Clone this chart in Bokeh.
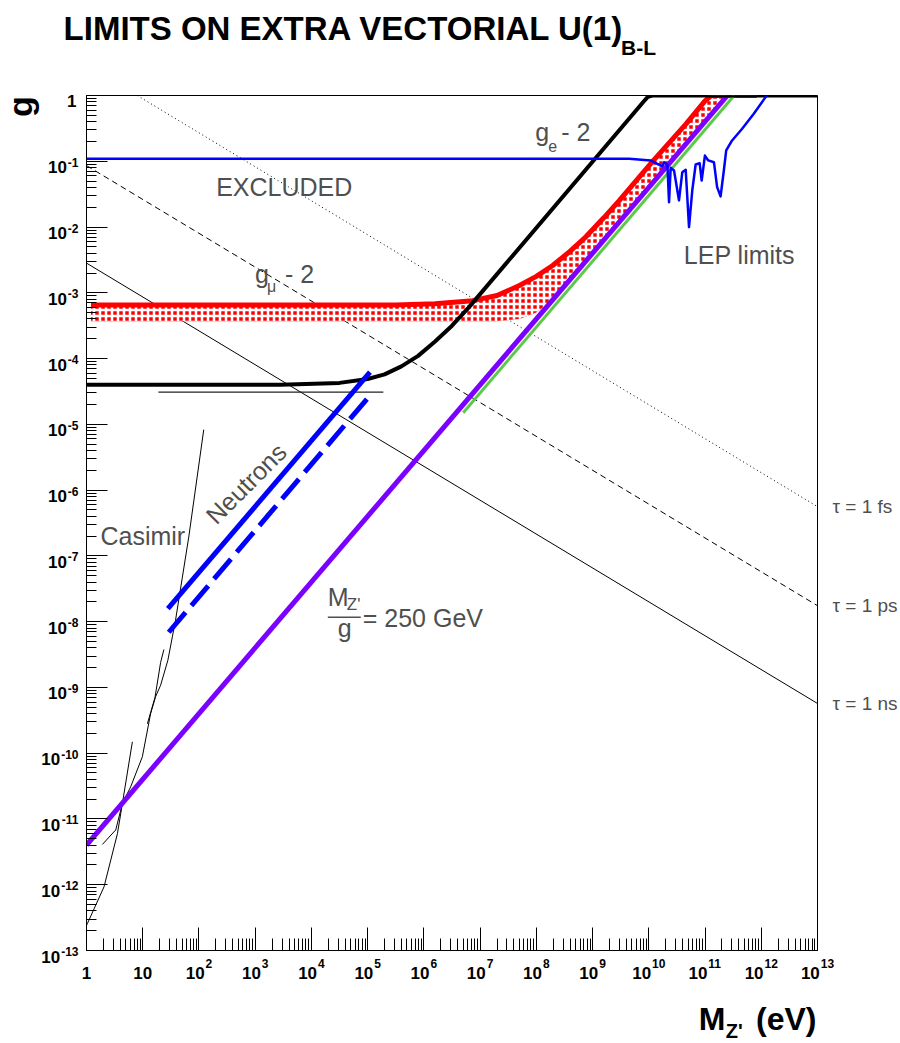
import math
from bokeh.plotting import figure
from bokeh.models import Range1d, FixedTicker, Label, BoxAnnotation, LogAxis
from bokeh.core.properties import value
from bokeh.embed import file_html
from bokeh.resources import INLINE

# ---------------- data (M in eV, g dimensionless) ----------------
black_M = [1, 2.8e3, 3.16e4, 1.0e5, 2.0e5, 3.98e5, 7.9e5, 1.58e6, 3.16e6, 6.3e6, 7.9e9, 9.6e9, 1.15e10, 1e13]
black_g = [4.0e-5, 4.0e-5, 4.27e-5, 4.9e-5, 5.75e-5, 7.6e-5, 1.10e-4, 1.82e-4, 3.16e-4, 6.0e-4, 0.79, 0.95, 1.0, 1.0]

red_M = [1.2, 3.2e5, 1.58e6, 7.4e6, 2.0e7, 5.0e7, 1.0e8, 1.95e8, 4.0e8, 7.6e8, 1.58e9, 2.95e9,
         1.15e10, 4.6e10, 1.0e11, 1.26e11, 1.4e11, 8.3e11]
red_g = [6.5e-4, 6.5e-4, 6.8e-4, 7.6e-4, 9.1e-4, 1.29e-3, 1.78e-3, 2.6e-3, 4.3e-3, 7.1e-3, 1.38e-2, 2.5e-2,
         9.8e-2, 0.37, 0.83, 0.98, 1.0, 1.0]

band_low_M = [1.2, 2.0e7, 5.0e7, 1.0e8, 1.6e8, 2.5e8, 4.0e8, 6.3e8, 2.24e11]
band_low_g = [3.7e-4, 3.7e-4, 4.0e-4, 5.0e-4, 6.8e-4, 1.0e-3, 1.7e-3, 2.8e-3, 1.0]

blue_M = [1, 4.47e9, 1.08e10, 1.42e10, 1.74e10, 1.87e10, 2.14e10, 2.29e10, 2.45e10, 2.81e10,
          3.44e10, 3.94e10, 4.53e10, 5.19e10, 5.93e10, 6.81e10, 8.02e10, 8.71e10, 9.95e10,
          1.14e11, 1.44e11, 1.64e11, 1.89e11, 2.16e11, 2.38e11, 3.03e11, 4.57e11, 7.36e11,
          1.19e12, 1.26e12]
blue_g = [0.109, 0.109, 0.103, 0.0916, 0.0834, 0.0968, 0.0893, 0.0239, 0.0796, 0.0724,
          0.0254, 0.0682, 0.0743, 0.00998, 0.036, 0.0893, 0.0935, 0.051, 0.122,
          0.103, 0.0968, 0.0405, 0.0292, 0.0724, 0.146, 0.207, 0.312, 0.527,
          0.944, 1.0]

purple_M = [1, 2.5e11]          # M/g = 250 GeV
purple_g = [4.0e-12, 1.0]

green_M = [5.0e6, 3.3e11]
green_g = [1.5e-5, 1.0]

neutron_solid_M = [28, 1.1e5]
neutron_solid_g = [1.58e-8, 6.2e-5]
neutron_dash_M = [29, 1.1e5]
neutron_dash_g = [6.9e-9, 2.75e-5]

hline_M = [19, 1.9e5]
hline_g = [3.1e-5, 3.1e-5]

tau_ns_M = [1, 1e13]
tau_ns_g = [2.83e-3, 5.7e-10]
tau_ps_M = [1, 1e13]
tau_ps_g = [8.6e-2, 1.75e-8]
tau_fs_M = [8.0, 1e13]
tau_fs_g = [1.0, 5.6e-7]
tau_labels = ["\u03c4 = 1 fs", "\u03c4 = 1 ps", "\u03c4 = 1 ns"]

casA_M = [121.6, 65.9, 38.3, 28.0, 20.8, 16.9, 13.8, 9.84, 6.10, 4.35, 3.31, 2.52, 1.92]
casA_g = [8.3e-6, 1.94e-7, 1.05e-8, 2.59e-9, 1.08e-9, 7.2e-10, 4.0e-10, 8.8e-11, 3.08e-11,
          1.72e-11, 6.8e-12, 5.3e-12, 4.1e-12]
casB_M = [6.54, 4.35, 3.55, 2.05, 1.04, 1.0]
casB_g = [1.49e-10, 1.72e-11, 6.0e-12, 9.3e-13, 2.58e-13, 2.4e-13]
casC_M = [23.8, 20.8, 16.5, 12.1]
casC_g = [3.77e-9, 2.4e-9, 7.0e-10, 2.8e-10]

x_tick_exponents = list(range(0, 14))
y_tick_exponents = list(range(0, -14, -1))

# ---------------- layout ----------------
W, H = 900, 1043
L, R, T, B = 86, 81, 95, 93
FX0, FX1 = L, W - R
FY0, FY1 = T, H - B
DX = (FX1 - FX0) / 13.0
DY = (FY1 - FY0) / 13.0


def xd(px):
    return 10 ** ((px - FX0) / DX)


def yd(py):
    return 10 ** (-(py - FY0) / DY)


FONT = "Liberation Sans"
GRAY = "#4f4f4f"

p = figure(width=W, height=H, x_axis_type="log", y_axis_type="log",
           x_range=Range1d(1, 1e13), y_range=Range1d(1e-13, 1),
           output_backend="svg", toolbar_location=None,
           min_border_left=L, min_border_right=R, min_border_top=T, min_border_bottom=B)
p.grid.visible = False
p.outline_line_color = "black"
p.outline_line_width = 1
p.background_fill_color = "white"
p.border_fill_color = "white"

xt = [10.0 ** e for e in x_tick_exponents]
yt = [10.0 ** e for e in y_tick_exponents]
p.xaxis.ticker = FixedTicker(ticks=xt,
                             minor_ticks=[m * 10.0 ** e for e in range(0, 13) for m in range(2, 10)])
p.yaxis.ticker = FixedTicker(ticks=yt,
                             minor_ticks=[m * 10.0 ** e for e in range(-13, 0) for m in range(2, 10)])
for ax, maj, mnr in ((p.xaxis, 23, 12), (p.yaxis, 21, 10)):
    ax.major_label_text_alpha = 0          # tick labels are drawn below as "10" + exponent
    ax.major_label_text_font_size = "9px"
    ax.major_label_standoff = 2
    ax.major_tick_in = maj
    ax.major_tick_out = 0
    ax.minor_tick_in = mnr
    ax.minor_tick_out = 0
    ax.axis_line_color = "black"
    ax.major_tick_line_color = "black"
    ax.minor_tick_line_color = "black"

# right axis carrying the lifetime labels
tau_ticks = [tau_fs_g[-1], tau_ps_g[-1], tau_ns_g[-1]]
rax = LogAxis(ticker=FixedTicker(ticks=tau_ticks, minor_ticks=[]),
              major_label_overrides={t: s for t, s in zip(tau_ticks, tau_labels)},
              axis_line_color=None, major_tick_line_color=None, minor_tick_line_color=None,
              major_label_text_font=FONT, major_label_text_font_size="19px",
              major_label_text_color=GRAY, major_label_standoff=9)
p.add_layout(rax, "right")

# ---------------- curves ----------------
p.line(tau_fs_M, tau_fs_g, line_color="black", line_width=1, line_dash="1 3")
p.line(tau_ps_M, tau_ps_g, line_color="black", line_width=1, line_dash="6 4")
p.line(tau_ns_M, tau_ns_g, line_color="black", line_width=1)

for cm, cg in ((casA_M, casA_g), (casB_M, casB_g), (casC_M, casC_g)):
    p.line(cm, cg, line_color="black", line_width=1)

p.line(hline_M, hline_g, line_color="#222222", line_width=1.3)

band_x = red_M[:-1] + band_low_M[::-1]
band_y = red_g[:-1] + band_low_g[::-1]
p.patch(band_x, band_y, fill_color="red", line_color=None,
        hatch_pattern="cross", hatch_color="white", hatch_scale=6, hatch_weight=2.5)
p.line(red_M, red_g, line_color="red", line_width=5, line_join="round")

p.line(green_M, green_g, line_color="#5cc94a", line_width=3)
p.line(purple_M, purple_g, line_color="#7a00ff", line_width=5)

p.line(black_M, black_g, line_color="black", line_width=4, line_join="round")
p.line(blue_M, blue_g, line_color="#0000ff", line_width=2.5, line_join="round")

p.line(neutron_solid_M, neutron_solid_g, line_color="#0000ff", line_width=5)
p.line(neutron_dash_M, neutron_dash_g, line_color="#0000ff", line_width=5, line_dash="26 9")


# ---------------- text (y given as the vertical middle of the text) ----------------
def lab(px, py, text, size, color=GRAY, bold=False, align="left", angle=0.0):
    p.add_layout(Label(x=xd(px), y=yd(py), text=text, text_font=FONT,
                       text_font_size=f"{size}px",
                       text_font_style="bold" if bold else "normal",
                       text_color=color, text_align=align, text_baseline="middle",
                       angle=angle))


def outside(px, py, text, size, align="left", angle=0.0):
    # texts outside the frame, drawn at overlay level so that they are not clipped
    p.text(x=[xd(px)], y=[yd(py)], text=[text], text_font=value(FONT),
           text_font_size=value(f"{size}px"), text_font_style="bold",
           text_color="black", text_align=align, text_baseline="middle",
           angle=angle, level="overlay")


# tick labels: "10" with a raised exponent
TEN_W, DIG_W, MIN_W = 18.9, 6.7, 4.0
for e in x_tick_exponents:
    tx = FX0 + e * DX
    if e == 0:
        outside(tx, 972, "1", 17, "center")
    elif e == 1:
        outside(tx, 972, "10", 17, "center")
    else:
        s = str(e)
        x0 = tx - (TEN_W + 1 + DIG_W * len(s)) / 2
        outside(x0, 972, "10", 17)
        outside(x0 + TEN_W + 1, 963, s, 12)

for e in y_tick_exponents:
    ty = FY0 - e * DY
    if e == 0:
        outside(76, ty + 5, "1", 17, "right")
    else:
        s = str(e)
        ew = MIN_W + DIG_W * (len(s) - 1)
        outside(78, ty + 1, s, 12, "right")
        outside(78 - ew - 1, ty + 6, "10", 17, "right")

outside(63, 28, "LIMITS ON EXTRA VECTORIAL U(1)", 33)
outside(622, 47, "B-L", 21)
outside(19, 106, "g", 34, "center", math.pi / 2)
outside(700, 1018, "M", 32)
outside(727, 1030, "Z'", 20)
outside(818, 1018, "(eV)", 32, "right")

# annotations in plot
lab(216, 186, "EXCLUDED", 25)
lab(536, 131, "g", 25)
lab(549, 145, "e", 16)
lab(562, 131, "- 2", 25)
lab(255, 273, "g", 25)
lab(267, 286, "\u03bc", 16)
lab(285, 273, "- 2", 25)
lab(685, 254, "LEP limits", 25)
lab(100, 535, "Casimir", 25)
lab(246, 483, "Neutrons", 25, GRAY, False, "center", math.pi / 4)
lab(328, 596, "M", 25)
lab(347, 604, "Z'", 17)
p.add_layout(BoxAnnotation(left=xd(328), right=xd(361), top=yd(616), bottom=yd(617.5),
                           fill_color=GRAY, fill_alpha=1, line_color=None))
lab(338, 627, "g", 25)
lab(363, 617, "= 250 GeV", 25)

open("out.html", "w").write(file_html(p, INLINE))
